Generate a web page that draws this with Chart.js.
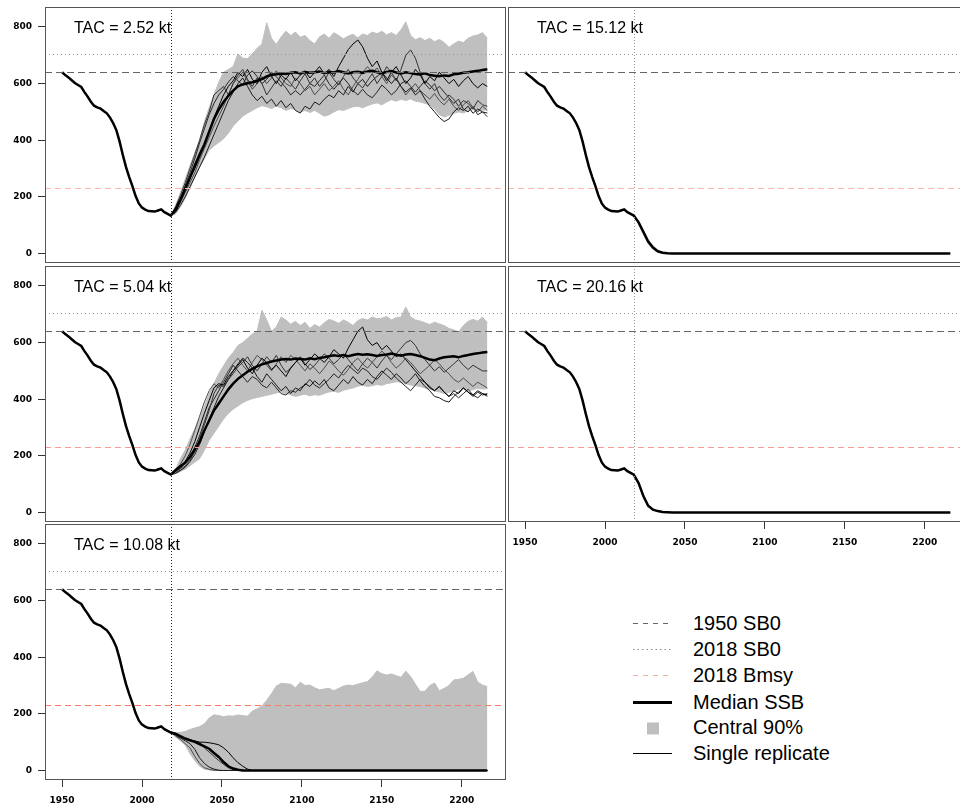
<!DOCTYPE html>
<html>
<head>
<meta charset="utf-8">
<script src="https://cdn.jsdelivr.net/npm/chart.js@4.4.1/dist/chart.umd.min.js"></script>
<style>
  body { margin: 0; width: 960px; height: 810px; overflow: hidden; background: #fff; position: relative; font-family: "Liberation Sans", Arial, sans-serif; }
  canvas { position: absolute; }
  .leg { position: absolute; left: 632px; height: 26px; width: 300px; }
  .leg svg { position: absolute; left: 0; top: 0; }
  .leg span { position: absolute; left: 61px; top: 0; font-size: 20px; line-height: 26px; color: #000; white-space: nowrap; }
</style>
</head>
<body>
<canvas id="p1" width="507" height="264" style="left:0;top:0"></canvas>
<canvas id="p2" width="507" height="264" style="left:0;top:259px"></canvas>
<canvas id="p3" width="507" height="293" style="left:0;top:517px"></canvas>
<canvas id="p4" width="463" height="264" style="left:507px;top:0"></canvas>
<canvas id="p5" width="463" height="293" style="left:507px;top:259px"></canvas>

<div class="leg" style="top:610px"><svg width="44" height="26"><line x1="1" y1="13.5" x2="40" y2="13.5" stroke="#666" stroke-width="1" stroke-dasharray="5,5"/></svg><span>1950 SB0</span></div>
<div class="leg" style="top:636px"><svg width="44" height="26"><line x1="1" y1="13.5" x2="40" y2="13.5" stroke="#888" stroke-width="1" stroke-dasharray="1.5,3"/></svg><span>2018 SB0</span></div>
<div class="leg" style="top:662px"><svg width="44" height="26"><line x1="1" y1="13.5" x2="40" y2="13.5" stroke="#f5aea4" stroke-width="1" stroke-dasharray="5,5"/></svg><span>2018 Bmsy</span></div>
<div class="leg" style="top:689px"><svg width="44" height="26"><line x1="1" y1="13.5" x2="40" y2="13.5" stroke="#000" stroke-width="3"/></svg><span>Median SSB</span></div>
<div class="leg" style="top:714px"><svg width="44" height="26"><rect x="15" y="8.5" width="12" height="12" fill="#bfbfbf"/></svg><span>Central 90%</span></div>
<div class="leg" style="top:740px"><svg width="44" height="26"><line x1="1" y1="13.5" x2="40" y2="13.5" stroke="#000" stroke-width="1"/></svg><span>Single replicate</span></div>

<script>
// ---- data ----
const yTicks = [0, 200, 400, 600, 800];
const xTicks = [1950, 2000, 2050, 2100, 2150, 2200];

// reference levels
const sb0_1950 = 640;
const sb0_2018 = 706;
const bmsy_2018 = 232;
const yearNow = 2018;

// historical median SSB (same in all panels)
const histYears = [1950, 1952, 1954, 1956, 1958, 1960, 1962, 1964, 1966, 1968,
  1970, 1972, 1974, 1976, 1978, 1980, 1982, 1984, 1986, 1988,
  1990, 1992, 1994, 1996, 1998, 2000, 2002, 2004, 2006, 2008,
  2010, 2012, 2014, 2016, 2018];
const histSSB = [640, 630, 622, 612, 602, 595, 588, 570, 554, 536,
  522, 516, 512, 503, 495, 480, 460, 435, 395, 348,
  305, 270, 238, 203, 177, 162, 155, 150, 149, 148,
  152, 156, 146, 140, 134];

// projection years
const projYears = [2018, 2021, 2024, 2027, 2030, 2033, 2036, 2039, 2042, 2045,
  2048, 2051, 2054, 2057, 2060, 2063, 2066, 2069, 2072, 2075,
  2078, 2081, 2084, 2087, 2090, 2093, 2096, 2099, 2102, 2105,
  2108, 2111, 2114, 2117, 2120, 2123, 2126, 2129, 2132, 2135,
  2138, 2141, 2144, 2147, 2150, 2153, 2156, 2159, 2162, 2165,
  2168, 2171, 2174, 2177, 2180, 2183, 2186, 2189, 2192, 2195,
  2198, 2201, 2204, 2207, 2210, 2213, 2216];

// TAC = 2.52 kt
const med252 = [134, 155, 190, 228, 268, 310, 350, 385, 430, 475,
  508, 535, 557, 575, 590, 597, 601, 605, 610, 616,
  625, 631, 633, 636, 634, 638, 640, 636, 641, 638,
  640, 643, 637, 641, 639, 644, 640, 636, 640, 642,
  638, 643, 645, 640, 637, 641, 644, 639, 636, 640,
  637, 634, 632, 636, 630, 628, 626, 629, 627, 633,
  635, 638, 640, 643, 645, 648, 651];
const up252 = [134, 170, 215, 262, 310, 355, 400, 465, 515, 560,
  605, 640, 650, 660, 705, 690, 688, 705, 725, 740,
  815, 760, 738, 765, 785, 770, 782, 764, 770, 752,
  740, 765, 775, 760, 780, 770, 758, 768, 774, 762,
  775, 770, 782, 776, 785, 772, 780, 770, 790, 818,
  770, 755, 762, 752, 760, 748, 756, 745, 728, 740,
  750, 745, 760, 768, 772, 780, 760];
const lo252 = [134, 140, 165, 195, 232, 270, 305, 335, 365, 380,
  392, 405, 425, 450, 468, 485, 496, 505, 515, 522,
  518, 512, 520, 515, 505, 512, 508, 500, 505, 498,
  506, 495, 485, 490, 500, 508, 505, 512, 518, 520,
  515, 522, 528, 532, 525, 535, 543, 538, 545, 540,
  546, 538, 535, 530, 525, 510, 490, 482, 488, 495,
  500, 496, 505, 508, 502, 506, 508];
const rep252a = [134, 150, 185, 225, 265, 300, 340, 380, 430, 480,
  520, 560, 590, 610, 640, 625, 650, 615, 600, 640,
  660, 625, 600, 630, 615, 640, 610, 630, 645, 620,
  640, 660, 635, 650, 625, 660, 690, 720, 740, 754,
  730, 690, 660, 680, 640, 610, 640, 660, 630, 600,
  620, 650, 630, 600, 625, 610, 640, 620, 600, 615,
  590, 610, 625, 600, 585, 600, 590];
const rep252b = [134, 165, 205, 250, 300, 350, 400, 455, 500, 560,
  575, 590, 560, 600, 630, 650, 615, 590, 620, 600,
  560, 585, 610, 590, 620, 600, 580, 610, 635, 600,
  620, 590, 610, 640, 615, 595, 625, 650, 620, 600,
  585, 610, 635, 600, 625, 660, 640, 610, 650, 700,
  719, 690, 640, 600, 580, 600, 560, 540, 560, 545,
  520, 540, 530, 510, 540, 525, 520];
const rep252c = [134, 145, 170, 200, 235, 270, 305, 340, 380, 420,
  460, 500, 540, 570, 600, 620, 590, 560, 540, 555,
  530, 545, 520, 540, 515, 530, 505, 496, 520, 510,
  535, 525, 545, 560, 550, 575, 560, 590, 570, 600,
  615, 590, 610, 625, 640, 620, 600, 620, 590, 570,
  585, 560, 575, 545, 520, 500, 480, 466, 475, 500,
  515, 505, 520, 495, 510, 500, 496];
const rep252d = [134, 150, 180, 215, 250, 285, 330, 370, 410, 450,
  485, 520, 560, 600, 620, 640, 610, 580, 600, 625,
  600, 620, 645, 620, 600, 590, 620, 600, 575, 590,
  560, 580, 600, 575, 590, 610, 580, 560, 590, 615,
  640, 660, 640, 655, 625, 600, 630, 615, 590, 560,
  580, 600, 575, 560, 545, 565, 540, 525, 545, 520,
  505, 525, 540, 515, 500, 520, 505];
const rep252e = [134, 155, 190, 240, 285, 335, 390, 440, 490, 530,
  560, 580, 605, 625, 610, 595, 630, 645, 625, 600,
  615, 640, 625, 605, 585, 560, 575, 560, 580, 600,
  590, 610, 630, 600, 580, 600, 620, 600, 575, 560,
  580, 560, 550, 570, 595, 580, 560, 575, 600, 610,
  590, 570, 590, 610, 595, 575, 590, 570, 550, 530,
  545, 510, 500, 520, 490, 500, 483];

// TAC = 5.04 kt
const med504 = [134, 150, 163, 176, 196, 222, 249, 290, 325, 360,
  385, 410, 435, 455, 472, 485, 497, 507, 516, 523,
  528, 533, 537, 540, 542, 540, 544, 542, 540, 545,
  541, 546, 548, 552, 555, 553, 556, 552, 556, 560,
  557, 559, 556, 553, 556, 558, 561, 557, 554, 558,
  560, 556, 552, 546, 540, 538, 544, 548, 550, 552,
  548, 553, 556, 560, 562, 565, 567];
const up504 = [134, 152, 190, 220, 260, 295, 332, 375, 420, 455,
  490, 518, 545, 565, 590, 600, 615, 630, 640, 714,
  680, 640, 655, 690, 680, 665, 675, 660, 672, 650,
  664, 655, 670, 682, 676, 668, 680, 672, 660, 678,
  685, 680, 690, 684, 686, 692, 680, 688, 690, 726,
  690, 680, 676, 670, 664, 672, 666, 660, 650, 645,
  638, 660, 675, 682, 676, 690, 670];
const lo504 = [134, 137, 145, 153, 165, 178, 190, 220, 255, 280,
  305, 330, 350, 365, 376, 388, 396, 402, 406, 410,
  414, 418, 422, 426, 420, 416, 410, 414, 418, 412,
  416, 414, 420, 426, 428, 424, 432, 436, 440, 446,
  450, 445, 448, 452, 449, 455, 458, 462, 460, 455,
  450, 448, 445, 440, 436, 430, 426, 420, 424, 430,
  435, 438, 430, 434, 438, 436, 437];
const rep504a = [134, 145, 160, 180, 210, 250, 300, 350, 395, 440,
  455, 450, 480, 500, 520, 540, 510, 490, 520, 545,
  530, 505, 520, 500, 480, 510, 530, 545, 520, 540,
  560, 545, 530, 550, 575, 560, 545, 580, 610, 640,
  655, 610, 590, 600, 575, 590, 570, 550, 560, 540,
  520, 500, 480, 460, 440, 430, 445, 425, 410, 430,
  420, 440, 425, 415, 430, 420, 415];
const rep504b = [134, 140, 150, 165, 185, 215, 260, 310, 360, 420,
  450, 445, 470, 490, 515, 530, 550, 520, 500, 525,
  550, 530, 555, 520, 495, 510, 530, 550, 525, 505,
  520, 540, 560, 545, 525, 540, 560, 540, 520, 500,
  525, 545, 530, 510, 535, 555, 540, 560, 580, 600,
  608, 590, 560, 540, 520, 500, 515, 495, 510, 525,
  540, 520, 505, 520, 510, 500, 500];
const rep504c = [134, 138, 148, 160, 180, 205, 240, 285, 330, 370,
  410, 440, 470, 500, 525, 545, 530, 510, 480, 460,
  490, 470, 450, 430, 445, 420, 440, 430, 455, 445,
  465, 450, 470, 440, 430, 450, 470, 455, 480, 460,
  450, 470, 455, 480, 500, 485, 470, 490, 475, 455,
  470, 490, 465, 445, 430, 410, 405, 395, 390, 410,
  425, 440, 425, 410, 425, 415, 420];
const rep504d = [134, 150, 170, 200, 240, 290, 340, 390, 430, 455,
  440, 470, 500, 525, 545, 520, 500, 530, 555, 540,
  520, 500, 525, 550, 530, 555, 540, 520, 500, 525,
  510, 490, 510, 535, 520, 500, 485, 505, 530, 545,
  525, 510, 530, 550, 570, 555, 530, 510, 525, 545,
  530, 510, 490, 505, 520, 540, 525, 505, 490, 470,
  460, 475, 460, 445, 460, 450, 440];
const rep504e = [134, 145, 155, 175, 200, 230, 270, 320, 370, 400,
  430, 460, 490, 520, 500, 480, 460, 480, 470, 450,
  440, 460, 440, 420, 415, 430, 425, 440, 450, 470,
  450, 440, 455, 470, 490, 475, 500, 520, 505, 490,
  510, 500, 480, 470, 490, 510, 495, 475, 460, 445,
  430, 450, 470, 460, 445, 430, 445, 425, 410, 420,
  405, 420, 435, 415, 405, 420, 410];

// TAC = 10.08 kt
const med1008 = [134, 130, 121, 113, 107, 101, 93, 85, 77, 62,
  48, 30, 15, 7, 3, 0, 0, 0, 0, 0,
  0, 0, 0, 0, 0, 0, 0, 0, 0, 0,
  0, 0, 0, 0, 0, 0, 0, 0, 0, 0,
  0, 0, 0, 0, 0, 0, 0, 0, 0, 0,
  0, 0, 0, 0, 0, 0, 0, 0, 0, 0,
  0, 0, 0, 0, 0, 0, 0];
const up1008 = [134, 132, 135, 138, 145, 150, 155, 165, 185, 197,
  194, 190, 193, 192, 196, 194, 192, 210, 218, 228,
  248, 272, 298, 308, 306, 305, 292, 312, 300, 302,
  292, 285, 288, 290, 282, 290, 298, 302, 300, 305,
  310, 314, 330, 352, 342, 337, 341, 335, 329, 351,
  332, 305, 279, 280, 300, 309, 282, 290, 300, 320,
  322, 326, 338, 350, 312, 302, 296];
const lo1008 = [134, 118, 105, 90, 60, 35, 15, 5, 2, 0,
  0, 0, 0, 0, 0, 0, 0, 0, 0, 0,
  0, 0, 0, 0, 0, 0, 0, 0, 0, 0,
  0, 0, 0, 0, 0, 0, 0, 0, 0, 0,
  0, 0, 0, 0, 0, 0, 0, 0, 0, 0,
  0, 0, 0, 0, 0, 0, 0, 0, 0, 0,
  0, 0, 0, 0, 0, 0, 0];
const rep1008a = [134, 128, 120, 112, 108, 104, 100, 100, 98, 95,
  91, 80, 65, 45, 28, 15, 5, 0, 0, 0,
  0, 0, 0, 0, 0, 0, 0, 0, 0, 0,
  0, 0, 0, 0, 0, 0, 0, 0, 0, 0,
  0, 0, 0, 0, 0, 0, 0, 0, 0, 0,
  0, 0, 0, 0, 0, 0, 0, 0, 0, 0,
  0, 0, 0, 0, 0, 0, 0];
const rep1008b = [134, 126, 118, 110, 106, 104, 100, 80, 65, 50,
  35, 22, 10, 3, 0, 0, 0, 0, 0, 0,
  0, 0, 0, 0, 0, 0, 0, 0, 0, 0,
  0, 0, 0, 0, 0, 0, 0, 0, 0, 0,
  0, 0, 0, 0, 0, 0, 0, 0, 0, 0,
  0, 0, 0, 0, 0, 0, 0, 0, 0, 0,
  0, 0, 0, 0, 0, 0, 0];
const rep1008c = [134, 125, 115, 105, 95, 75, 45, 25, 12, 5,
  1, 0, 0, 0, 0, 0, 0, 0, 0, 0,
  0, 0, 0, 0, 0, 0, 0, 0, 0, 0,
  0, 0, 0, 0, 0, 0, 0, 0, 0, 0,
  0, 0, 0, 0, 0, 0, 0, 0, 0, 0,
  0, 0, 0, 0, 0, 0, 0, 0, 0, 0,
  0, 0, 0, 0, 0, 0, 0];
const rep1008d = [134, 122, 110, 95, 80, 50, 25, 10, 4, 1,
  0, 0, 0, 0, 0, 0, 0, 0, 0, 0,
  0, 0, 0, 0, 0, 0, 0, 0, 0, 0,
  0, 0, 0, 0, 0, 0, 0, 0, 0, 0,
  0, 0, 0, 0, 0, 0, 0, 0, 0, 0,
  0, 0, 0, 0, 0, 0, 0, 0, 0, 0,
  0, 0, 0, 0, 0, 0, 0];

// TAC = 15.12 kt
const med1512 = [134, 110, 76, 42, 21, 8, 3, 1, 0, 0,
  0, 0, 0, 0, 0, 0, 0, 0, 0, 0,
  0, 0, 0, 0, 0, 0, 0, 0, 0, 0,
  0, 0, 0, 0, 0, 0, 0, 0, 0, 0,
  0, 0, 0, 0, 0, 0, 0, 0, 0, 0,
  0, 0, 0, 0, 0, 0, 0, 0, 0, 0,
  0, 0, 0, 0, 0, 0, 0];
const up1512 = [134, 115, 84, 50, 28, 12, 5, 2, 0, 0,
  0, 0, 0, 0, 0, 0, 0, 0, 0, 0,
  0, 0, 0, 0, 0, 0, 0, 0, 0, 0,
  0, 0, 0, 0, 0, 0, 0, 0, 0, 0,
  0, 0, 0, 0, 0, 0, 0, 0, 0, 0,
  0, 0, 0, 0, 0, 0, 0, 0, 0, 0,
  0, 0, 0, 0, 0, 0, 0];
const lo1512 = [134, 105, 68, 35, 15, 5, 1, 0, 0, 0,
  0, 0, 0, 0, 0, 0, 0, 0, 0, 0,
  0, 0, 0, 0, 0, 0, 0, 0, 0, 0,
  0, 0, 0, 0, 0, 0, 0, 0, 0, 0,
  0, 0, 0, 0, 0, 0, 0, 0, 0, 0,
  0, 0, 0, 0, 0, 0, 0, 0, 0, 0,
  0, 0, 0, 0, 0, 0, 0];

// TAC = 20.16 kt
const med2016 = [134, 104, 58, 24, 10, 5, 2, 1, 0, 0,
  0, 0, 0, 0, 0, 0, 0, 0, 0, 0,
  0, 0, 0, 0, 0, 0, 0, 0, 0, 0,
  0, 0, 0, 0, 0, 0, 0, 0, 0, 0,
  0, 0, 0, 0, 0, 0, 0, 0, 0, 0,
  0, 0, 0, 0, 0, 0, 0, 0, 0, 0,
  0, 0, 0, 0, 0, 0, 0];
const up2016 = [134, 107, 63, 29, 13, 6, 3, 1, 0, 0,
  0, 0, 0, 0, 0, 0, 0, 0, 0, 0,
  0, 0, 0, 0, 0, 0, 0, 0, 0, 0,
  0, 0, 0, 0, 0, 0, 0, 0, 0, 0,
  0, 0, 0, 0, 0, 0, 0, 0, 0, 0,
  0, 0, 0, 0, 0, 0, 0, 0, 0, 0,
  0, 0, 0, 0, 0, 0, 0];
const lo2016 = [134, 100, 52, 20, 8, 3, 1, 0, 0, 0,
  0, 0, 0, 0, 0, 0, 0, 0, 0, 0,
  0, 0, 0, 0, 0, 0, 0, 0, 0, 0,
  0, 0, 0, 0, 0, 0, 0, 0, 0, 0,
  0, 0, 0, 0, 0, 0, 0, 0, 0, 0,
  0, 0, 0, 0, 0, 0, 0, 0, 0, 0,
  0, 0, 0, 0, 0, 0, 0];

// ---- drawing ----
const BAND = '#bfbfbf';
const repColors = ['#000000', '#333333', '#1a1a1a', '#4d4d4d', '#262626'];
const tickFont = { family: 'DejaVu Sans', size: 9, weight: 'bold' };

function pts(xs, ys) {
  return ys.map(function (y, i) { return { x: xs[i], y: y }; });
}

// reference lines, frame and panel label
const panelDecor = {
  id: 'panelDecor',
  afterDatasetsDraw: function (chart, args, opts) {
    const ctx = chart.ctx;
    const a = chart.chartArea;
    const xs = chart.scales.x;
    const ys = chart.scales.y;
    ctx.save();
    ctx.beginPath();
    ctx.rect(a.left, a.top, a.right - a.left, a.bottom - a.top);
    ctx.clip();
    ctx.lineWidth = 1;
    function hline(v, color, dash) {
      const py = Math.round(ys.getPixelForValue(v)) + 0.5;
      ctx.strokeStyle = color;
      ctx.setLineDash(dash);
      ctx.beginPath();
      ctx.moveTo(a.left, py);
      ctx.lineTo(a.right, py);
      ctx.stroke();
    }
    hline(sb0_2018, '#9a9a9a', [1, 3]);
    hline(sb0_1950, '#666666', [7, 4]);
    hline(bmsy_2018, opts.bmsyColor, [6, 4]);
    const px = Math.round(xs.getPixelForValue(yearNow)) + 0.5;
    ctx.strokeStyle = opts.vColor;
    ctx.setLineDash([1, 2]);
    ctx.beginPath();
    ctx.moveTo(px, a.top);
    ctx.lineTo(px, a.bottom);
    ctx.stroke();
    ctx.restore();

    ctx.save();
    ctx.strokeStyle = '#555';
    ctx.lineWidth = 1;
    ctx.setLineDash([]);
    ctx.strokeRect(a.left + 0.5, a.top + 0.5, a.right - a.left - 1, a.bottom - a.top - 1);
    ctx.fillStyle = '#000';
    ctx.font = '16px "Liberation Sans", Arial, sans-serif';
    ctx.textBaseline = 'alphabetic';
    ctx.textAlign = 'left';
    ctx.fillText(opts.title, a.left + 29, a.top + 26);
    ctx.restore();
  },
};

function makePanel(cfg) {
  const datasets = [];
  // median: history + projection
  datasets.push({
    data: pts(histYears, histSSB).concat(pts(projYears, cfg.med)),
    borderColor: '#000',
    borderWidth: 2.5,
    fill: false,
  });
  cfg.reps.forEach(function (r, i) {
    datasets.push({
      data: pts(projYears, r),
      borderColor: repColors[i % repColors.length],
      borderWidth: 1,
      fill: false,
    });
  });
  // central 90% band
  datasets.push({
    data: pts(projYears, cfg.upper),
    borderColor: BAND,
    borderWidth: 1,
    backgroundColor: BAND,
    fill: '+1',
  });
  datasets.push({
    data: pts(projYears, cfg.lower),
    borderColor: BAND,
    borderWidth: 1,
    fill: false,
  });

  new Chart(document.getElementById(cfg.id).getContext('2d'), {
    type: 'line',
    data: { datasets: datasets },
    plugins: [panelDecor],
    options: {
      responsive: false,
      animation: false,
      devicePixelRatio: 1,
      events: [],
      layout: { padding: cfg.padding },
      elements: { point: { radius: 0 }, line: { tension: 0 } },
      plugins: {
        legend: { display: false },
        tooltip: { enabled: false },
        panelDecor: { title: cfg.title, bmsyColor: cfg.bmsyColor, vColor: cfg.vColor },
      },
      scales: {
        x: {
          type: 'linear',
          min: 1939.32,
          max: 2227.68,
          display: cfg.xAxis,
          afterBuildTicks: function (s) { s.ticks = xTicks.map(function (v) { return { value: v }; }); },
          afterFit: function (s) {
            s.height = cfg.xAxis ? 30 : 0;
            s.paddingLeft = 0; s.paddingRight = 0;
          },
          grid: { drawOnChartArea: false, drawTicks: true, tickLength: 7, color: '#333' },
          border: { display: false },
          ticks: {
            autoSkip: false, maxRotation: 0, padding: 8, color: '#000', font: tickFont,
            callback: function (v) { return String(v); },
          },
        },
        y: {
          type: 'linear',
          min: -33.5,
          max: 870.5,
          display: cfg.yAxis,
          afterBuildTicks: function (s) { s.ticks = yTicks.map(function (v) { return { value: v }; }); },
          afterFit: function (s) {
            s.width = cfg.yAxis ? 45 : 0;
            s.paddingTop = 0; s.paddingBottom = 0;
          },
          grid: { drawOnChartArea: false, drawTicks: true, tickLength: 7, color: '#333' },
          border: { display: false },
          ticks: {
            padding: 6, color: '#000', font: tickFont,
            callback: function (v) { return String(v); },
          },
        },
      },
    },
  });
}

document.addEventListener('DOMContentLoaded', function () {
  makePanel({
    id: 'p1', title: 'TAC = 2.52 kt',
    med: med252, upper: up252, lower: lo252,
    reps: [rep252a, rep252b, rep252c, rep252d, rep252e],
    bmsyColor: '#f9b8ae', vColor: '#222',
    xAxis: false, yAxis: true,
    padding: { top: 7, right: 1, bottom: 1, left: 0 },
  });
  makePanel({
    id: 'p2', title: 'TAC = 5.04 kt',
    med: med504, upper: up504, lower: lo504,
    reps: [rep504a, rep504b, rep504c, rep504d, rep504e],
    bmsyColor: '#f69c90', vColor: '#222',
    xAxis: false, yAxis: true,
    padding: { top: 7, right: 1, bottom: 1, left: 0 },
  });
  makePanel({
    id: 'p3', title: 'TAC = 10.08 kt',
    med: med1008, upper: up1008, lower: lo1008,
    reps: [rep1008a, rep1008b, rep1008c, rep1008d],
    bmsyColor: '#f77c68', vColor: '#222',
    xAxis: true, yAxis: true,
    padding: { top: 7, right: 1, bottom: 0, left: 0 },
  });
  makePanel({
    id: 'p4', title: 'TAC = 15.12 kt',
    med: med1512, upper: up1512, lower: lo1512,
    reps: [],
    bmsyColor: '#f9b8ae', vColor: '#999',
    xAxis: false, yAxis: false,
    padding: { top: 7, right: 1, bottom: 1, left: 1 },
  });
  makePanel({
    id: 'p5', title: 'TAC = 20.16 kt',
    med: med2016, upper: up2016, lower: lo2016,
    reps: [],
    bmsyColor: '#f69c90', vColor: '#999',
    xAxis: true, yAxis: false,
    padding: { top: 7, right: 1, bottom: 0, left: 1 },
  });
});
</script>
</body>
</html>
